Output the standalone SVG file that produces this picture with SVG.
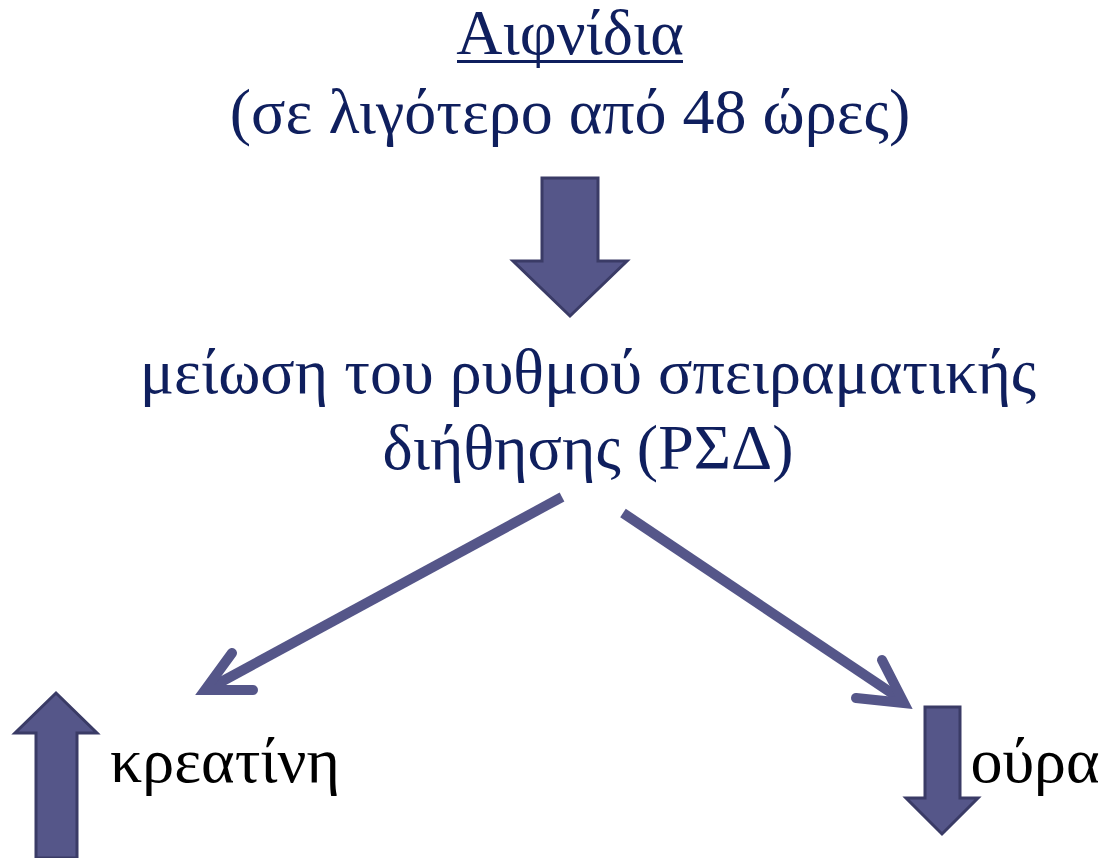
<svg xmlns="http://www.w3.org/2000/svg" width="1110" height="858" viewBox="0 0 1110 858">
<style>
.t{font-family:"Liberation Serif","Times New Roman",serif;font-size:64px;text-anchor:middle}
.blue{fill:#0f1f5e}
.blk{fill:#000}
.block{fill:#555689;stroke:#3a3b66;stroke-width:3;stroke-linejoin:miter}
.conn{fill:none;stroke:#555689;stroke-width:10;stroke-linecap:butt}
.head{fill:none;stroke:#555689;stroke-width:10;stroke-linecap:round;stroke-linejoin:miter}
</style>
<rect width="1110" height="858" fill="#fff"/>
<g id="title">
<text class="t blue" x="570" y="54">Αιφνίδια</text>
<rect x="457" y="60" width="226" height="3" fill="#0f1f5e"/>
<text class="t blue" x="570" y="133">(σε λιγότερο από 48 ώρες)</text>
</g>
<g id="arrow-down-main">
<polygon class="block" points="542,178 598,178 598,261 627,261 570,316 513,261 542,261"/>
</g>
<g id="gfr">
<text class="t blue" x="588" y="393">μείωση του ρυθμού σπειραματικής</text>
<text class="t blue" x="588" y="469">διήθησης (ΡΣΔ)</text>
</g>
<g id="creatinine">
<polygon class="block" points="36,858 36,733 15,733 56,693 97,733 77,733 77,858"/>
<text class="t blk" x="225" y="782">κρεατίνη</text>
</g>
<g id="urine">
<polygon class="block" points="925,707 960,707 960,798 978,798 942,834 906,798 925,798"/>
<text class="t blk" x="1035" y="782">ούρα</text>
</g>
<g id="connectors">
<line class="conn" x1="562" y1="497" x2="208" y2="689"/>
<polyline class="head" points="232,653 205,690 253,690"/>
<line class="conn" x1="623" y1="513" x2="902" y2="700"/>
<polyline class="head" points="882,660 904,703 856,698"/>
</g>
</svg>
